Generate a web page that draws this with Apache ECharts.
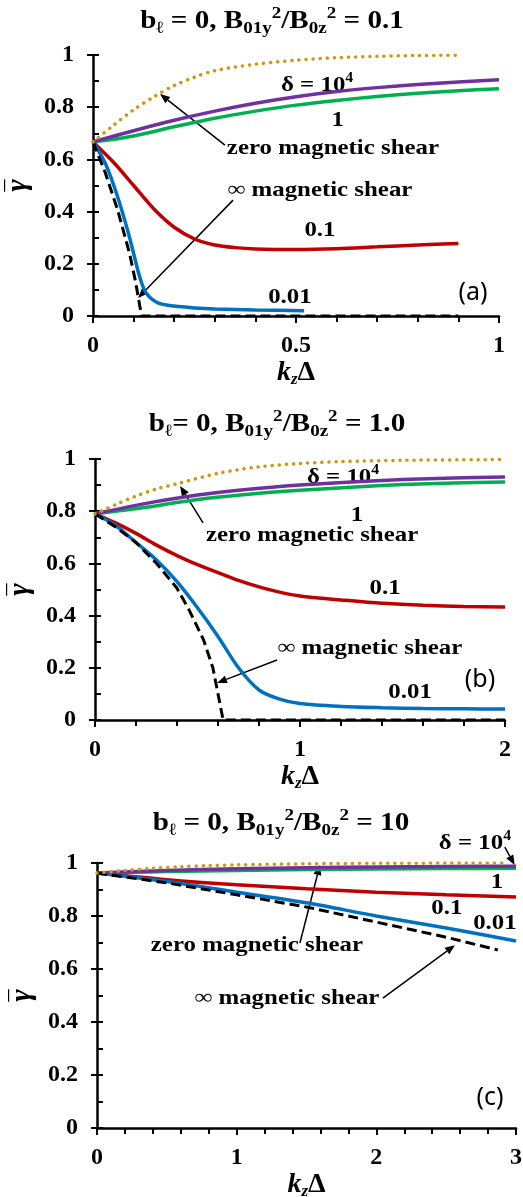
<!DOCTYPE html>
<html>
<head>
<meta charset="utf-8">
<script src="https://cdn.jsdelivr.net/npm/echarts@6/dist/echarts.min.js"></script>
<style>
  html, body { margin: 0; padding: 0; background: #fff; }
  #main { width: 523px; height: 1197px; }
</style>
</head>
<body>
<div id="main"></div>
<script>
// curves: [kzDelta, gamma]
// panel (a): B01y^2/B0z^2 = 0.1
var aZero = [[0,0.667],[0.05,0.73],[0.1,0.79],[0.15,0.84],[0.2,0.883],[0.25,0.915],[0.3,0.94],[0.4,0.965],[0.5,0.98],[0.6,0.99],[0.7,0.995],[0.8,0.998],[0.9,0.999]];
var aD4 = [[0,0.667],[0.1,0.71],[0.2,0.75],[0.3,0.785],[0.4,0.815],[0.5,0.84],[0.6,0.86],[0.7,0.875],[0.8,0.887],[0.9,0.897],[1.0,0.905]];
var aD1 = [[0,0.667],[0.1,0.69],[0.2,0.725],[0.3,0.758],[0.4,0.785],[0.5,0.808],[0.6,0.826],[0.7,0.841],[0.8,0.853],[0.9,0.863],[1.0,0.871]];
var aD01 = [[0,0.667],[0.05,0.59],[0.1,0.5],[0.15,0.41],[0.2,0.34],[0.25,0.295],[0.3,0.272],[0.35,0.262],[0.4,0.257],[0.5,0.255],[0.6,0.258],[0.7,0.265],[0.8,0.272],[0.9,0.278]];
var aD001 = [[0,0.667],[0.03,0.586],[0.06,0.46],[0.085,0.33],[0.1,0.24],[0.115,0.15],[0.13,0.09],[0.16,0.05],[0.2,0.038],[0.25,0.031],[0.3,0.027],[0.4,0.023],[0.52,0.02]];
var aInf = [[0,0.667],[0.03,0.55],[0.06,0.41],[0.09,0.24],[0.105,0.13],[0.115,0.04],[0.12,0],[0.9,0]];

// panel (b): B01y^2/B0z^2 = 1.0
var bZero = [[0,0.79],[0.1,0.825],[0.2,0.858],[0.3,0.885],[0.4,0.905],[0.6,0.945],[0.8,0.97],[1.0,0.983],[1.2,0.99],[1.5,0.995],[2.0,0.998]];
var bD4 = [[0,0.79],[0.25,0.83],[0.5,0.862],[0.75,0.884],[1.0,0.9],[1.25,0.912],[1.5,0.921],[1.75,0.927],[2.0,0.931]];
var bD1 = [[0,0.79],[0.25,0.815],[0.5,0.845],[0.75,0.865],[1.0,0.88],[1.25,0.892],[1.5,0.902],[1.75,0.908],[2.0,0.912]];
var bD01 = [[0,0.79],[0.1,0.755],[0.2,0.715],[0.3,0.67],[0.4,0.63],[0.5,0.595],[0.6,0.565],[0.7,0.535],[0.8,0.51],[0.9,0.49],[1.0,0.475],[1.2,0.46],[1.4,0.447],[1.6,0.44],[1.8,0.435],[2.0,0.433]];
var bD001 = [[0,0.79],[0.1,0.745],[0.2,0.68],[0.3,0.613],[0.4,0.53],[0.5,0.43],[0.6,0.32],[0.7,0.2],[0.8,0.115],[0.9,0.08],[1.0,0.063],[1.2,0.052],[1.4,0.047],[1.6,0.044],[1.8,0.043],[2.0,0.042]];
var bInf = [[0,0.79],[0.1,0.74],[0.2,0.68],[0.3,0.6],[0.4,0.505],[0.46,0.42],[0.53,0.306],[0.575,0.2],[0.6,0.1],[0.625,0],[2.0,0]];

// panel (c): B01y^2/B0z^2 = 10
var cZero = [[0,0.962],[0.2,0.972],[0.4,0.98],[0.6,0.986],[0.8,0.99],[1.0,0.993],[1.5,0.997],[2.0,0.999],[2.9,1.0]];
var cD4 = [[0,0.962],[0.5,0.972],[1.0,0.978],[1.5,0.982],[2.0,0.985],[2.5,0.987],[3.0,0.988]];
var cD1 = [[0,0.962],[0.5,0.968],[1.0,0.972],[1.5,0.975],[2.0,0.977],[2.5,0.979],[3.0,0.98]];
var cD01 = [[0,0.962],[0.5,0.937],[1.0,0.918],[1.5,0.903],[2.0,0.89],[2.5,0.88],[3.0,0.872]];
var cD001 = [[0,0.962],[0.5,0.93],[1.0,0.89],[1.5,0.85],[2.0,0.8],[2.5,0.755],[3.0,0.706]];
var cInf = [[0,0.962],[0.5,0.925],[1.0,0.88],[1.5,0.834],[2.0,0.777],[2.5,0.72],[2.87,0.672]];

var xMax = [1, 2, 3];
var xStep = [0.5, 1, 1];
var panelLetters = ['(a)', '(b)', '(c)'];
var titles = [
    '{m|b}{s|ℓ}{m| = 0, B}{s|01y}{p|2}{m|/B}{s|0z}{p|2}{m| = 0.1}',
    '{m|b}{s|ℓ}{m|= 0, B}{s|01y}{p|2}{m|/B}{s|0z}{p|2}{m| = 1.0}',
    '{m|b}{s|ℓ}{m| = 0, B}{s|01y}{p|2}{m|/B}{s|0z}{p|2}{m| = 10}'
];

// annotation text: grid, kz, gamma, text
var notes = [
    [0, 0.552, 0.885, '{m|δ = 10}{p|4}'],
    [0, 0.603, 0.751, '{m|1}'],
    [0, 0.591, 0.644, '{m|zero magnetic shear}'],
    [0, 0.559, 0.483, '{m|∞ magnetic shear}'],
    [0, 0.559, 0.33, '{m|0.1}'],
    [0, 0.485, 0.073, '{m|0.01}'],
    [1, 1.21, 0.931, '{m|δ = 10}{p|4}'],
    [1, 1.278, 0.785, '{m|1}'],
    [1, 1.059, 0.709, '{m|zero magnetic shear}'],
    [1, 1.415, 0.506, '{m|0.1}'],
    [1, 1.341, 0.276, '{m|∞ magnetic shear}'],
    [1, 1.537, 0.107, '{m|0.01}'],
    [2, 2.706, 1.075, '{m|δ = 10}{p|4}'],
    [2, 2.863, 0.928, '{m|1}'],
    [2, 2.505, 0.83, '{m|0.1}'],
    [2, 2.849, 0.774, '{m|0.01}'],
    [2, 1.145, 0.69, '{m|zero magnetic shear}'],
    [2, 1.36, 0.49, '{m|∞ magnetic shear}']
];
var letterPos = [[0.936, 0.088], [1.878, 0.153], [2.813, 0.113]];

// arrows: grid, tail kz, tail gamma, head kz, head gamma
var arrows = [
    [0, 0.325, 0.655, 0.165, 0.851],
    [0, 0.345, 0.444, 0.111, 0.069],
    [1, 0.527, 0.755, 0.415, 0.897],
    [1, 0.888, 0.23, 0.595, 0.142],
    [2, 2.92, 1.06, 2.99, 0.992],
    [2, 1.453, 0.698, 1.596, 0.992],
    [2, 2.047, 0.49, 2.563, 0.69]
];

var serif = "'Liberation Serif', 'Times New Roman', serif";
var richText = {
    m: { fontFamily: serif, fontWeight: 'bold', fontSize: 22, color: '#000', lineHeight: 28 },
    p: { fontFamily: serif, fontWeight: 'bold', fontSize: 14, color: '#000', lineHeight: 14, verticalAlign: 'top' }
};
var richTitle = {
    m: { fontFamily: serif, fontWeight: 'bold', fontSize: 26, color: '#000', lineHeight: 32 },
    s: { fontFamily: serif, fontWeight: 'bold', fontSize: 17, color: '#000', lineHeight: 16, verticalAlign: 'bottom' },
    p: { fontFamily: serif, fontWeight: 'bold', fontSize: 17, color: '#000', lineHeight: 16, verticalAlign: 'top' }
};

var grids = [
    { left: 93, top: 55, width: 406, height: 261, outerBoundsMode: 'none' },
    { left: 95, top: 459, width: 410, height: 261, outerBoundsMode: 'none' },
    { left: 97, top: 863, width: 419, height: 265, outerBoundsMode: 'none' }
];
var titleCenters = [[272, 21], [277, 424], [281, 823]];

var colors = { zero: '#CC9A12', d4: '#7030A0', d1: '#00B050', d01: '#C00000', d001: '#0070C0', inf: '#000000' };
var panels = [
    { zero: aZero, d4: aD4, d1: aD1, d01: aD01, d001: aD001, inf: aInf },
    { zero: bZero, d4: bD4, d1: bD1, d01: bD01, d001: bD001, inf: bInf },
    { zero: cZero, d4: cD4, d1: cD1, d01: cD01, d001: cD001, inf: cInf }
];

var xAxes = [], yAxes = [], series = [];
grids.forEach(function (g, i) {
    xAxes.push({
        type: 'value', gridIndex: i, min: 0, max: xMax[i], interval: xStep[i],
        name: '{k|k}{z|z}{d|Δ}', nameLocation: 'middle', nameGap: 38,
        nameTextStyle: {
            rich: {
                k: { fontFamily: serif, fontWeight: 'bold', fontStyle: 'italic', fontSize: 28, color: '#000' },
                z: { fontFamily: serif, fontWeight: 'bold', fontStyle: 'italic', fontSize: 17, color: '#000', verticalAlign: 'bottom', padding: [14, 0, 0, 0] },
                d: { fontFamily: serif, fontWeight: 'bold', fontSize: 28, color: '#000' }
            }
        },
        axisLine: { lineStyle: { color: '#000', width: 2.5 } },
        axisTick: { length: 7, lineStyle: { color: '#000', width: 2 } },
        minorTick: { show: true, splitNumber: 5, length: 6, lineStyle: { color: '#000', width: 2 } },
        axisLabel: { color: '#000', fontFamily: serif, fontWeight: 'bold', fontSize: 24, margin: 18 },
        splitLine: { show: false }
    });
    yAxes.push({
        type: 'value', gridIndex: i, min: 0, max: 1, interval: 0.2,
        name: '{b|_}\n{g|γ}', nameLocation: 'middle', nameRotate: 90, nameGap: 46,
        nameTextStyle: {
            rich: {
                b: { fontFamily: serif, fontSize: 24, color: '#000', lineHeight: 20, align: 'center' },
                g: { fontFamily: serif, fontStyle: 'italic', fontWeight: 'bold', fontSize: 30, color: '#000', lineHeight: 24, align: 'center' }
            }
        },
        axisLine: { onZero: false, lineStyle: { color: '#000', width: 2.5 } },
        axisTick: { length: 6, lineStyle: { color: '#000', width: 2 } },
        axisLabel: { color: '#000', fontFamily: serif, fontWeight: 'bold', fontSize: 24, margin: 19 },
        splitLine: { show: false }
    });
    // second axis on the same grid only for the inward ticks
    yAxes.push({
        type: 'value', gridIndex: i, min: 0, max: 1, interval: 0.2, position: 'left',
        axisLine: { show: false },
        axisTick: { inside: true, length: 6, lineStyle: { color: '#000', width: 2 } },
        minorTick: { show: true, splitNumber: 2, length: 6, lineStyle: { color: '#000', width: 2 } },
        axisLabel: { show: false },
        splitLine: { show: false }
    });

    var p = panels[i];
    function addLine(data, color, style, smooth, z) {
        series.push({
            type: 'line', xAxisIndex: i, yAxisIndex: 2 * i, data: data,
            showSymbol: false, smooth: smooth, z: z,
            lineStyle: Object.assign({ color: color, width: 3.5 }, style)
        });
    }
    addLine(p.d1, colors.d1, {}, 0.3, 2);
    addLine(p.d4, colors.d4, {}, 0.3, 3);
    addLine(p.d01, colors.d01, {}, 0.3, 2);
    addLine(p.d001, colors.d001, {}, 0.3, 2);
    addLine(p.inf, colors.inf, { type: [10, 5], width: 3 }, false, 4);
    addLine(p.zero, colors.zero, { type: [0.1, 7], cap: 'round', width: 3.5 }, 0.3, 5);
});

var chart = echarts.init(document.getElementById('main'));
chart.setOption({
    animation: false,
    backgroundColor: '#fff',
    grid: grids,
    xAxis: xAxes,
    yAxis: yAxes,
    series: series
});

// titles, notes and arrows placed after the axes exist
var graphics = [];
titles.forEach(function (t, i) {
    graphics.push({
        type: 'text', x: titleCenters[i][0], y: titleCenters[i][1], scaleX: 1.12,
        style: { text: t, rich: richTitle, align: 'center', verticalAlign: 'middle' }
    });
});
function toPx(gi, x, y) {
    return chart.convertToPixel({ xAxisIndex: gi, yAxisIndex: 2 * gi }, [x, y]);
}
notes.forEach(function (n) {
    var pt = toPx(n[0], n[1], n[2]);
    graphics.push({
        type: 'text', x: pt[0], y: pt[1], scaleX: 1.13,
        style: { text: n[3], rich: richText, align: 'center', verticalAlign: 'middle' }
    });
});
letterPos.forEach(function (lp, i) {
    var pt = toPx(i, lp[0], lp[1]);
    graphics.push({
        type: 'text', x: pt[0], y: pt[1],
        style: { text: panelLetters[i], fontFamily: "'Noto Sans', 'Liberation Sans', sans-serif", fontSize: 25, fill: '#000', align: 'center', verticalAlign: 'middle' }
    });
});
arrows.forEach(function (a) {
    var t = toPx(a[0], a[1], a[2]);
    var h = toPx(a[0], a[3], a[4]);
    var dx = h[0] - t[0], dy = h[1] - t[1];
    var len = Math.sqrt(dx * dx + dy * dy);
    var ux = dx / len, uy = dy / len;
    var bx = h[0] - ux * 10, by = h[1] - uy * 10;
    graphics.push({
        type: 'line', shape: { x1: t[0], y1: t[1], x2: bx, y2: by },
        style: { stroke: '#000', lineWidth: 1.5 }
    });
    graphics.push({
        type: 'polygon',
        shape: { points: [[h[0], h[1]], [bx - uy * 4, by + ux * 4], [bx + uy * 4, by - ux * 4]] },
        style: { fill: '#000' }
    });
});
chart.setOption({ graphic: graphics });
</script>
</body>
</html>
